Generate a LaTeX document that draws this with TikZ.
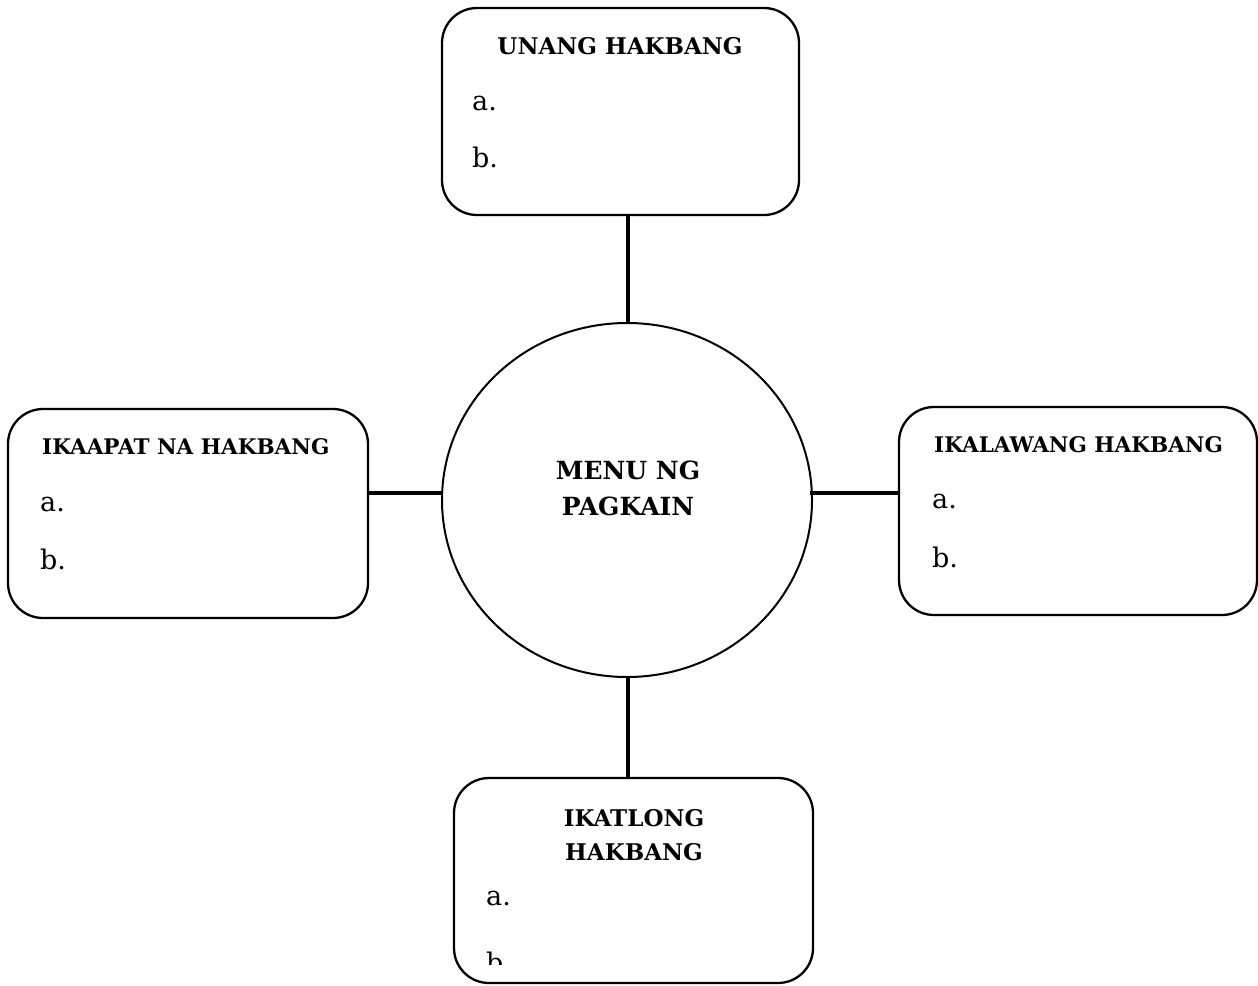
\documentclass[tikz,border=0pt]{standalone}
\usepackage{fontspec}
\setmainfont{DejaVu Serif}
\usetikzlibrary{shapes.geometric}
\begin{document}
\begin{tikzpicture}[x=1pt,y=-1pt,
  box/.style={draw, line width=2.3pt, rounded corners=35pt, inner sep=0pt},
  conn/.style={line width=3.5pt},
  head/.style={font=\fontsize{23}{27}\selectfont\bfseries, inner sep=0pt, anchor=base},
  shead/.style={font=\fontsize{21.5}{25}\selectfont\bfseries, inner sep=0pt, anchor=base west},
  item/.style={font=\fontsize{27}{32}\selectfont, inner sep=0pt, anchor=base west}]
\useasboundingbox (0,0) rectangle (1258,985);
% boxes
\node[box, minimum width=357pt, minimum height=207pt] (top) at (620.5,111.5) {};
\node[box, minimum width=360pt, minimum height=209pt] (left) at (188,513.5) {};
\node[box, minimum width=358pt, minimum height=208pt] (right) at (1078,511) {};
\node[box, minimum width=359pt, minimum height=205pt] (bottom) at (633.5,880.5) {};
\node[draw, ellipse, line width=2pt, minimum width=370pt, minimum height=354pt, inner sep=0pt] (circ) at (627,500) {};
% connectors
\draw[conn] (top.south -| 628,0) -- (circ.north -| 628,0);
\draw[conn] (circ.south -| 628,0) -- (bottom.north -| 628,0);
\draw[conn] (left.east |- 0,493) -- (circ.west |- 0,493);
\draw[conn] (right.west |- 0,493) -- (810,493) coordinate (rc);
% center text
\node[head, font=\fontsize{25}{30}\selectfont\bfseries] (c1) at (628,479) {MENU NG};
\node[head, font=\fontsize{25}{30}\selectfont\bfseries] (c2) at (628,515) {PAGKAIN};
% top box
\node[head] (t0) at (620,54) {UNANG HAKBANG};
\node[item] (ta) at (472,110) {a.};
\node[item] (tb) at (472,167) {b.};
% left box
\node[shead] (l0) at (42,454) {IKAAPAT NA HAKBANG};
\node[item] (la) at (40,511) {a.};
\node[item] (lb) at (40,569) {b.};
% right box
\node[shead] (r0) at (934,452) {IKALAWANG HAKBANG};
\node[item] (ra) at (932,508) {a.};
\node[item] (rb) at (932,567) {b.};
% bottom box
\node[head] (b0) at (634,826) {IKATLONG};
\node[head] (b1) at (634,860) {HAKBANG};
\node[item] (ba) at (486,905) {a.};
\begin{scope}
\clip (454,778) rectangle (813,964);
\node[item] (bb) at (486,972) {b.};
\end{scope}
\end{tikzpicture}
\end{document}
